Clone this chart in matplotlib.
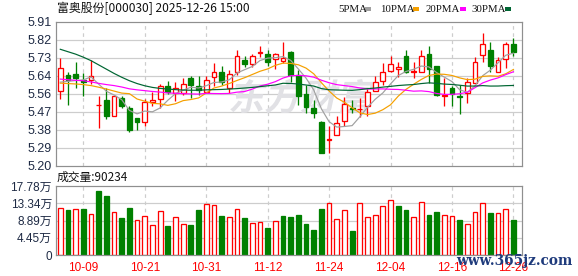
import numpy as np
import matplotlib
matplotlib.use('Agg')
import matplotlib.pyplot as plt
from matplotlib.patches import Rectangle, PathPatch
from matplotlib.textpath import TextPath
from matplotlib.font_manager import FontProperties
from matplotlib.transforms import Affine2D

# ---------------- data ----------------
dates = ['09-26', '09-29', '09-30', '10-09', '10-10', '10-13', '10-14', '10-15', '10-16', '10-17',
         '10-20', '10-21', '10-22', '10-23', '10-24', '10-27', '10-28', '10-29', '10-30', '10-31',
         '11-03', '11-04', '11-05', '11-06', '11-07', '11-10', '11-11', '11-12', '11-13', '11-14',
         '11-17', '11-18', '11-19', '11-20', '11-21', '11-24', '11-25', '11-26', '11-27', '11-28',
         '12-01', '12-02', '12-03', '12-04', '12-05', '12-08', '12-09', '12-10', '12-11', '12-12',
         '12-15', '12-16', '12-17', '12-18', '12-19', '12-22', '12-23', '12-24', '12-25', '12-26']

opens = [5.570, 5.645, 5.652, 5.622, 5.622, 5.498, 5.524, 5.447, 5.532, 5.484,
         5.434, 5.417, 5.516, 5.527, 5.591, 5.560, 5.557, 5.631, 5.591, 5.565,
         5.636, 5.664, 5.585, 5.664, 5.719, 5.703, 5.757, 5.751, 5.724, 5.715,
         5.762, 5.647, 5.553, 5.483, 5.417, 5.325, 5.350, 5.420, 5.483, 5.480,
         5.496, 5.568, 5.618, 5.665, 5.675, 5.741, 5.660, 5.663, 5.751, 5.692,
         5.546, 5.582, 5.545, 5.557, 5.609, 5.746, 5.770, 5.663, 5.725, 5.800]
closes = [5.680, 5.622, 5.634, 5.612, 5.641, 5.501, 5.447, 5.542, 5.496, 5.376,
          5.417, 5.516, 5.524, 5.591, 5.565, 5.581, 5.601, 5.596, 5.573, 5.621,
          5.660, 5.613, 5.652, 5.739, 5.703, 5.739, 5.759, 5.713, 5.749, 5.730,
          5.647, 5.545, 5.488, 5.458, 5.264, 5.330, 5.412, 5.503, 5.479, 5.481,
          5.563, 5.611, 5.660, 5.700, 5.688, 5.663, 5.665, 5.741, 5.678, 5.549,
          5.551, 5.555, 5.540, 5.613, 5.711, 5.800, 5.692, 5.720, 5.800, 5.762]
highs = [5.729, 5.663, 5.710, 5.655, 5.721, 5.543, 5.581, 5.545, 5.543, 5.494,
         5.435, 5.529, 5.565, 5.603, 5.616, 5.611, 5.631, 5.640, 5.642, 5.642,
         5.705, 5.692, 5.672, 5.770, 5.742, 5.750, 5.792, 5.770, 5.754, 5.808,
         5.767, 5.672, 5.598, 5.524, 5.420, 5.396, 5.445, 5.540, 5.524, 5.535,
         5.580, 5.644, 5.705, 5.741, 5.710, 5.770, 5.710, 5.770, 5.790, 5.692,
         5.631, 5.593, 5.596, 5.631, 5.734, 5.856, 5.811, 5.737, 5.808, 5.830]
lows = [5.530, 5.499, 5.582, 5.543, 5.601, 5.387, 5.430, 5.445, 5.483, 5.368,
        5.377, 5.396, 5.494, 5.486, 5.553, 5.519, 5.547, 5.535, 5.548, 5.557,
        5.593, 5.596, 5.557, 5.647, 5.688, 5.685, 5.734, 5.691, 5.675, 5.705,
        5.614, 5.499, 5.458, 5.436, 5.262, 5.264, 5.350, 5.396, 5.458, 5.442,
        5.445, 5.566, 5.598, 5.660, 5.639, 5.655, 5.631, 5.660, 5.606, 5.543,
        5.494, 5.494, 5.455, 5.508, 5.609, 5.713, 5.663, 5.663, 5.683, 5.742]
# volume in 万 (10k)
volumes = [12.03, 11.60, 11.77, 11.85, 10.48, 16.49, 15.20, 10.99, 9.53, 12.03,
           8.93, 9.96, 7.64, 11.25, 7.47, 9.71, 7.90, 7.73, 11.60, 13.06,
           12.80, 10.05, 9.71, 11.77, 9.53, 8.16, 8.42, 6.96, 8.68, 10.05,
           9.79, 10.31, 7.99, 6.44, 11.85, 13.31, 9.19, 11.51, 6.18, 13.31,
           9.71, 10.22, 12.54, 14.09, 12.63, 11.60, 9.71, 13.57, 10.31, 10.99,
           10.22, 9.96, 9.02, 7.99, 10.99, 13.31, 10.82, 10.74, 11.77, 9.0234]

# moving-average values before a full window is available
ma5_head = [5.612, 5.616, 5.620, 5.623]
ma10_head = [5.607, 5.605, 5.603, 5.600, 5.595, 5.587, 5.578, 5.568, 5.558]
ma20_head = [5.627, 5.624, 5.621, 5.619, 5.613, 5.606, 5.600, 5.595, 5.588, 5.579,
             5.574, 5.570, 5.566, 5.563, 5.559, 5.557, 5.555, 5.554, 5.553]
ma30_head = [5.774, 5.762, 5.750, 5.735, 5.718, 5.697, 5.676, 5.655, 5.636, 5.619,
             5.605, 5.594, 5.586, 5.581, 5.578, 5.575, 5.573, 5.572, 5.572, 5.574,
             5.575, 5.576, 5.578, 5.580, 5.583, 5.586, 5.590, 5.594, 5.598]

tick_dates = ['10-09', '10-21', '10-31', '11-12', '11-24', '12-04', '12-16', '12-26']
price_ticks = [5.20, 5.28875, 5.3775, 5.46625, 5.555, 5.64375, 5.7325, 5.82125, 5.91]
price_tick_labels = ['5.20', '5.29', '5.38', '5.47', '5.56', '5.64', '5.73', '5.82', '5.91']
vol_ticks = [0, 4.445, 8.89, 13.335, 17.78]
vol_tick_labels = ['0', '4.45万', '8.89万', '13.34万', '17.78万']
title = '富奥股份[000030] 2025-12-26 15:00'
ma_names = ['5PMA', '10PMA', '20PMA', '30PMA']

# ---------------- helpers ----------------
W, H = 578, 276
PX = 0.72  # 1 pixel in points at dpi 100


def fx(px):
    return px / W


def fy(py):
    return 1 - py / H


def mavg(vals, n, head):
    out = list(head)
    for i in range(len(head), len(vals)):
        out.append(float(np.mean(vals[i - n + 1:i + 1])))
    return out


RED = '#ff0000'
GREEN = '#008000'
GRID = '#cdcdcd'
FRAME = '#8f8f8f'
LABEL = '#1e2a44'
ma_colors = ['#a0a0a0', '#f5a000', '#ff00ff', '#006633']

n = len(closes)
x = np.arange(n)
ma_series = [mavg(closes, 5, ma5_head), mavg(closes, 10, ma10_head),
             mavg(closes, 20, ma20_head), mavg(closes, 30, ma30_head)]
tick_idx = [dates.index(d) for d in tick_dates]

fig = plt.figure(figsize=(W / 100, H / 100), dpi=100)
fig.patch.set_facecolor('white')

ax1 = fig.add_axes([fx(56), fy(165.7), fx(522) - fx(56), fy(21.7) - fy(165.7)])
ax2 = fig.add_axes([fx(56), fy(255), fx(522) - fx(56), fy(186) - fy(255)])

xlim = (-0.56, 60.12)
for ax in (ax1, ax2):
    ax.set_xlim(*xlim)
    for s in ax.spines.values():
        s.set_color(FRAME)
        s.set_linewidth(1.2 * PX)
    ax.set_xticks(tick_idx)
    for t in tick_idx:
        ax.axvline(t, color=GRID, lw=1.2 * PX, ls=(0, (3, 3)), zorder=0.5)
    ax.tick_params(axis='both', length=0)
    ax.set_axisbelow(True)

# ---------- price panel ----------
ax1.set_ylim(5.20, 5.91)
ax1.set_yticks(price_ticks)
ax1.set_yticklabels(price_tick_labels, fontsize=9, color=LABEL, family='Liberation Sans')
ax1.tick_params(axis='y', pad=3)
ax1.set_xticklabels([])
for p in price_ticks[1:-1]:
    ax1.axhline(p, color=GRID, lw=1.2 * PX, zorder=0.5)

# watermark
fp = FontProperties(family='Noto Sans CJK SC', weight='bold')
tp = TextPath((0, 0), '东方财富', size=36, prop=fp)
wm = PathPatch(tp, facecolor='#e1e1e5', edgecolor='none', zorder=0.8)
wm.set_transform(Affine2D().skew_deg(12, 0).translate(228, H - 110))
wm.set_clip_on(False)
ax1.add_artist(wm)

up = np.array(closes) >= np.array(opens)
for i in range(n):
    o, c, h, l = opens[i], closes[i], highs[i], lows[i]
    col = RED if up[i] else GREEN
    ax1.vlines(i, l, h, color=col, lw=1.3 * PX, zorder=2)
    bh = max(abs(c - o), 0.002)
    ax1.bar(i, bh, bottom=min(o, c), width=0.62,
            facecolor='white' if up[i] else GREEN, edgecolor=col,
            linewidth=1.3 * PX, zorder=2.5)

for vals, col in zip(ma_series, ma_colors):
    ax1.plot(x, vals, color=col, lw=1.2 * PX, zorder=3)

# ---------- volume panel ----------
ax2.set_ylim(0, 17.78)
ax2.set_yticks(vol_ticks)
ax2.set_yticklabels(vol_tick_labels, fontsize=8.5, color=LABEL,
                    family=['Liberation Sans', 'Noto Sans CJK SC'])
ax2.tick_params(axis='y', pad=3)
for v in vol_ticks[1:-1]:
    ax2.axhline(v, color=GRID, lw=1.2 * PX, zorder=0.5)
ax2.set_xticklabels(tick_dates, fontsize=8.5, color=RED, family='Liberation Sans')
ax2.tick_params(axis='x', pad=5)

vol_up = [True] + [closes[i] >= closes[i - 1] for i in range(1, n)]
for i in range(n):
    col = RED if vol_up[i] else GREEN
    ax2.bar(i, volumes[i], width=0.62, facecolor='white' if vol_up[i] else GREEN,
            edgecolor=col, linewidth=1.3 * PX, zorder=2)

# ---------- texts ----------
fig.text(fx(57), fy(8.3), title, fontsize=8.6, family=['Noto Sans CJK SC', 'DejaVu Sans'],
         color='#111111', ha='left', va='center')
fig.text(fx(57), fy(177), '成交量:%d' % round(volumes[-1] * 10000), fontsize=8.5,
         family=['Noto Sans CJK SC', 'DejaVu Sans'], color='#111111', ha='left', va='center')

legend_x = [338.5, 380, 426, 471.5]
square_x = [365, 413, 459.5, 505]
for name, col, tx, sx in zip(ma_names, ma_colors, legend_x, square_x):
    fig.text(fx(tx), fy(9), name, fontsize=7.8, family='Liberation Serif',
             color='#111111', ha='left', va='center')
    fig.add_artist(Rectangle((fx(sx), fy(10.5)), 6 / W, 3.5 / H, transform=fig.transFigure,
                             facecolor=col, edgecolor='none'))

fig.text(fx(573), fy(261), 'www.365jz.com', fontsize=9.8, family='DejaVu Serif',
         weight='bold', color='#1f3b7c', ha='right', va='center')

fig.savefig('out.png', dpi=100, facecolor='white')
